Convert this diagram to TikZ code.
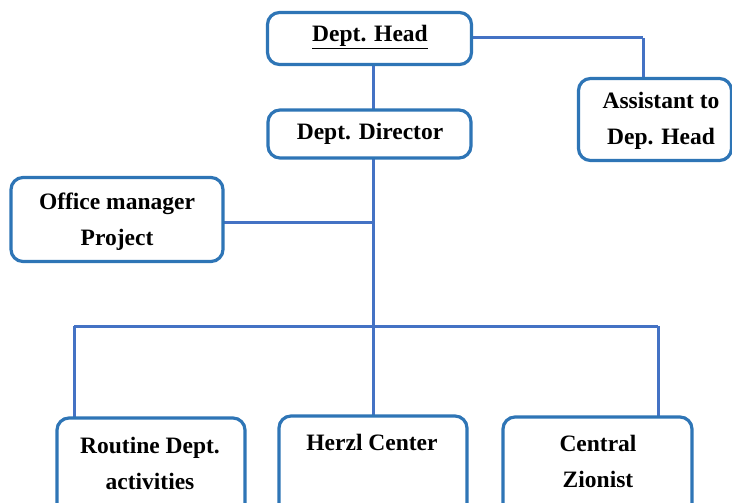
\documentclass[tikz,border=0pt]{standalone}
\usepackage{fontspec}
\setmainfont{Liberation Serif}
\usetikzlibrary{calc}
\definecolor{boxblue}{HTML}{2E75B6}
\definecolor{linkblue}{HTML}{4472C4}
\begin{document}
\begin{tikzpicture}[x=1pt,y=-1pt,
  unit/.style={draw=boxblue,line width=3.2pt,rounded corners=12pt,fill=white,
    inner sep=0pt},
  caption/.style={font=\fontsize{23.5}{36}\selectfont\bfseries,align=center,
    text=black,inner sep=0pt},
  link/.style={draw=linkblue,line width=3pt}]
\clip (0,0) rectangle (732,503);
\useasboundingbox (0,0) rectangle (732,503);

% connector points
\coordinate (headLow)  at (373,64);
\coordinate (asstTop)  at (643,78);
\coordinate (busMid)   at (373,326);
\coordinate (busL)     at (74,326);
\coordinate (busR)     at (658,326);

% links (drawn first so the boxes sit on top)
\path[link] (asstTop |- 0,38) -- (asstTop);
\path[link] (headLow) -- (373,110);
\path[link] (373,158) -- (373,418);
\path[link] (223,222) -- (373,222);
\path[link] (busL) -- (busR);
\path[link] (busL) -- (74,419);
\path[link] (busR) -- (658,418);
\path[link] (471,38) -- (asstTop |- 0,38);

% boxes
\node[unit,minimum width=204pt,minimum height=52pt] (head) at (369.5,38.5) {};
\node[unit,minimum width=203pt,minimum height=48pt] (director) at (369.5,134) {};
\node[unit,minimum width=153pt,minimum height=82pt] (asst) at (655,119.5) {};
\node[unit,minimum width=212pt,minimum height=84pt] (office) at (117,219.5) {};
\node[unit,minimum width=188pt,minimum height=120pt] (routine) at (151,478) {};
\node[unit,minimum width=188pt,minimum height=120pt] (herzl) at (373,476) {};
\node[unit,minimum width=189pt,minimum height=120pt] (central) at (597.5,477) {};

% texts
\node[caption] (headT) at (370,37) {\underline{Dept. Head}};
\node[caption] (directorT) at (370,134) {Dept. Director};
\node[caption] (asstT) at (661,121) {Assistant to\\Dep. Head};
\node[caption] (officeT) at (117,222) {Office manager\\Project};
\node[caption] (routineT) at (150,463) {Routine Dept.\\activities};
\node[caption] (herzlT) at (372,442) {Herzl Center};
\node[caption] (centralT) at (598,461) {Central\\Zionist};
\end{tikzpicture}
\end{document}
